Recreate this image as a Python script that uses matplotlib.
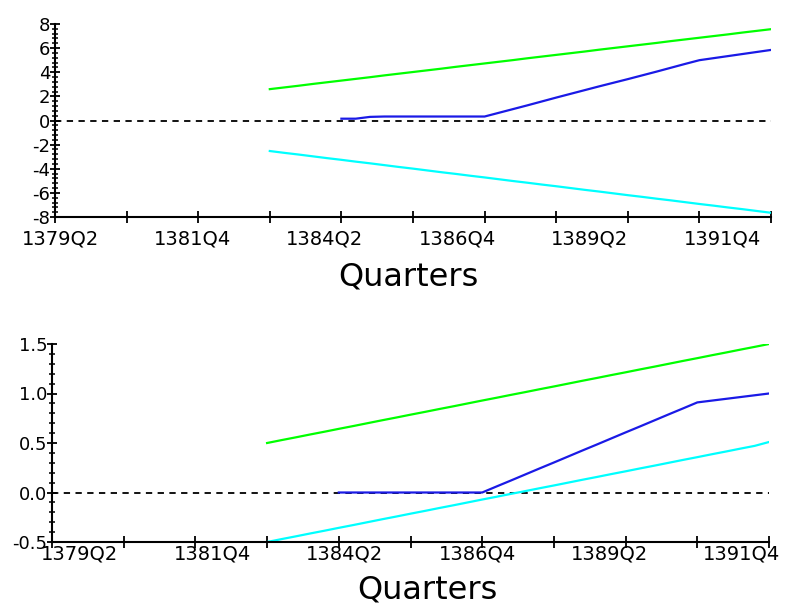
import numpy as np
import matplotlib
matplotlib.use('Agg')
import matplotlib.pyplot as plt

# quarter index 0 = 1379Q2 ... 50 = 1391Q4
quarter_labels = ['1379Q2', '1381Q4', '1384Q2', '1386Q4', '1389Q2', '1391Q4']

# CUSUM (top panel)
bound_start = 15
cusum_start = 20
cusum_upper = [2.60, 2.74, 2.88, 3.03, 3.17, 3.31, 3.45, 3.59, 3.74, 3.88, 4.02, 4.16,
               4.30, 4.45, 4.59, 4.73, 4.87, 5.01, 5.16, 5.30, 5.44, 5.58, 5.72, 5.87,
               6.01, 6.15, 6.29, 6.43, 6.58, 6.72, 6.86, 7.00, 7.14, 7.29, 7.43, 7.57]
cusum_lower = [-2.53, -2.68, -2.82, -2.97, -3.12, -3.26, -3.41, -3.55, -3.70, -3.85, -3.99, -4.14,
               -4.29, -4.43, -4.58, -4.72, -4.87, -5.02, -5.16, -5.31, -5.45, -5.60, -5.75, -5.89,
               -6.04, -6.19, -6.33, -6.48, -6.62, -6.77, -6.92, -7.06, -7.21, -7.35, -7.50, -7.65]
cusum = [0.15, 0.15, 0.30, 0.33, 0.33, 0.33, 0.33, 0.33, 0.33, 0.33, 0.33,
         0.64, 0.95, 1.26, 1.58, 1.90, 2.21, 2.52, 2.83, 3.13, 3.43,
         3.74, 4.05, 4.37, 4.69, 5.00, 5.17, 5.34, 5.51, 5.68, 5.85]

# CUSUM of squares (bottom panel)
cusumsq_upper = [0.500, 0.529, 0.557, 0.586, 0.614, 0.643, 0.671, 0.700, 0.729, 0.757, 0.786, 0.814,
                 0.843, 0.871, 0.900, 0.929, 0.957, 0.986, 1.014, 1.043, 1.071, 1.100, 1.129, 1.157,
                 1.186, 1.214, 1.243, 1.271, 1.300, 1.329, 1.357, 1.386, 1.414, 1.443, 1.471, 1.500]
cusumsq_lower = [-0.500, -0.471, -0.443, -0.414, -0.386, -0.357, -0.329, -0.300, -0.271, -0.243, -0.214, -0.186,
                 -0.157, -0.129, -0.100, -0.071, -0.043, -0.014, 0.014, 0.043, 0.071, 0.100, 0.129, 0.157,
                 0.186, 0.214, 0.243, 0.271, 0.300, 0.329, 0.357, 0.386, 0.414, 0.443, 0.471, 0.510]
cusumsq = [0.0, 0.0, 0.0, 0.0, 0.0, 0.0, 0.0, 0.0, 0.0, 0.0, 0.0,
           0.061, 0.121, 0.182, 0.243, 0.303, 0.364, 0.425, 0.485, 0.546, 0.607,
           0.667, 0.728, 0.789, 0.849, 0.910, 0.928, 0.946, 0.964, 0.982, 1.000]

GREEN = '#00ff00'
CYAN = '#00ffff'
BLUE = '#1a1ae6'

plt.rcParams['font.family'] = 'DejaVu Sans'

fig = plt.figure(figsize=(7.88, 6.10), dpi=100)
ax1 = fig.add_axes([55 / 788, 1 - 217 / 610, 716 / 788, 193 / 610])
ax2 = fig.add_axes([52 / 788, 1 - 542 / 610, 717 / 788, 198 / 610])


def draw_panel(ax, upper, lower, stat, ylim, ymajor, yminor, ylabels, label_pos, label_pad, xlab_xy):
    xb = np.arange(bound_start, bound_start + len(upper))
    xs = np.arange(cusum_start, cusum_start + len(stat))
    ax.axhline(0, color='black', lw=1.3, ls=(0, (3.5, 3)), zorder=1)
    ax.plot(xb, upper, color=GREEN, lw=1.6, zorder=2)
    ax.plot(xb, lower, color=CYAN, lw=1.6, zorder=2)
    ax.plot(xs, stat, color=BLUE, lw=1.6, zorder=3)

    ax.set_xlim(0, 50)
    ax.set_ylim(*ylim)
    for s in ['top', 'right']:
        ax.spines[s].set_visible(False)
    for s in ['left', 'bottom']:
        ax.spines[s].set_linewidth(1.5)

    ax.set_yticks(ymajor)
    ax.set_yticklabels(ylabels)
    ax.set_yticks(yminor, minor=True)
    ax.tick_params(axis='y', which='major', direction='inout', length=7, width=1.3,
                   pad=0, labelsize=13)
    ax.tick_params(axis='y', which='minor', direction='inout', length=4, width=1.1)

    # ticks every 5 quarters, labels every 10 (drawn as label-only minor ticks)
    ax.set_xticks(np.arange(0, 51, 5))
    ax.set_xticklabels([])
    ax.set_xticks(label_pos, minor=True)
    ax.set_xticklabels(quarter_labels, minor=True)
    ax.tick_params(axis='x', which='major', direction='inout', length=8, width=1.3)
    ax.tick_params(axis='x', which='minor', length=0, pad=label_pad, labelsize=14)

    ax.set_xlabel('Quarters', fontsize=23, va='center')
    ax.xaxis.set_label_coords(*xlab_xy)


draw_panel(ax1, cusum_upper, cusum_lower, cusum, (-8, 8),
           np.arange(-8, 9, 2), np.arange(-8, 8.01, 0.4),
           [str(v) for v in range(-8, 9, 2)],
           np.linspace(0.35, 46.6, 6), 9, (0.494, -0.311))

draw_panel(ax2, cusumsq_upper, cusumsq_lower, cusumsq, (-0.5, 1.5),
           np.arange(-0.5, 1.51, 0.5), np.arange(-0.5, 1.501, 0.1),
           ['-0.5', '0.0', '0.5', '1.0', '1.5'],
           np.linspace(1.95, 48.1, 6), 2, (0.524, -0.24))

fig.savefig('out.png', dpi=100)
